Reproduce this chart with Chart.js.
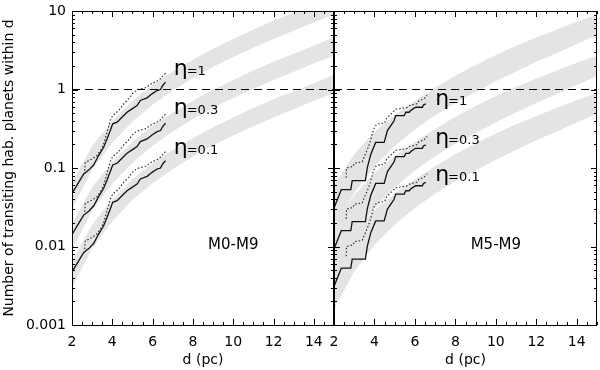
<!DOCTYPE html>
<html>
<head>
<meta charset="utf-8">
<script src="https://cdn.jsdelivr.net/npm/chart.js@4.4.1/dist/chart.umd.min.js"></script>
<style>
  html,body{margin:0;padding:0;background:#fff;}
  #wrap{position:relative;width:600px;height:370px;overflow:hidden;}
  canvas{position:absolute;top:0;}
  #c-all{left:0;}
  #c-late{left:300px;}
</style>
</head>
<body>
<div id="wrap">
  <canvas id="c-all" width="340" height="370"></canvas>
  <canvas id="c-late" width="300" height="370"></canvas>
</div>
<script>
// ---- data ----
const etaValues = [1, 0.3, 0.1];
const etaLabels = ['=1', '=0.3', '=0.1'];
const xTickValues = [2, 4, 6, 8, 10, 12, 14];
const yTickValues = [0.001, 0.01, 0.1, 1, 10];
const yTickLabels = ['0.001', '0.01', '0.1', '1', '10'];
const bandDist = [2, 3, 4, 5, 6, 7, 8, 9, 10, 11, 12, 13, 14, 15];

// M0-M9, eta = 1 (other eta scale with eta)
const allBandLow  = [0.030, 0.095, 0.21, 0.39, 0.64, 0.97, 1.4, 1.95, 2.6, 3.4, 4.4, 5.6, 7.2, 9.0];
const allBandHigh = [0.065, 0.19, 0.40, 0.72, 1.15, 1.7, 2.4, 3.3, 4.4, 5.8, 7.5, 9.5, 12, 15.5];
const allSolidD = [2.00, 2.33, 2.58, 2.83, 3.08, 3.32, 3.57, 3.74, 3.90, 4.02, 4.24, 4.48, 4.73, 4.98, 5.23, 5.39, 5.73, 5.97, 6.22, 6.39, 6.50, 6.64];
const allSolidN = [0.0475, 0.0656, 0.0838, 0.094, 0.110, 0.144, 0.184, 0.235, 0.30, 0.365, 0.383, 0.443, 0.514, 0.567, 0.625, 0.724, 0.783, 0.88, 0.97, 1.0, 1.125, 1.24];
const allDotD = [2.63, 2.66, 2.99, 3.24, 3.46, 3.57, 3.74, 3.90, 4.02, 4.32, 4.57, 4.81, 5.06, 5.31, 5.64, 5.97, 6.22, 6.39, 6.64];
const allDotN = [0.0925, 0.118, 0.130, 0.144, 0.175, 0.202, 0.285, 0.402, 0.466, 0.54, 0.656, 0.76, 0.925, 1.0, 1.05, 1.2, 1.28, 1.37, 1.62];

// M5-M9, eta = 1
const lateBandLow  = [0.016, 0.048, 0.105, 0.19, 0.31, 0.47, 0.68, 0.93, 1.27, 1.7, 2.25, 2.9, 3.8, 4.9];
const lateBandHigh = [0.06, 0.15, 0.29, 0.47, 0.72, 1.05, 1.5, 2.05, 2.75, 3.6, 4.6, 5.8, 7.3, 9.0];
const lateSolidD = [2.00, 2.36, 2.83, 2.90, 3.55, 3.65, 3.82, 4.06, 4.48, 4.64, 4.81, 4.97, 5.05, 5.47, 5.55, 5.71, 5.83, 6.04, 6.37, 6.42, 6.54];
const lateSolidN = [0.031, 0.053, 0.053, 0.069, 0.069, 0.102, 0.15, 0.212, 0.212, 0.30, 0.347, 0.40, 0.466, 0.466, 0.513, 0.513, 0.55, 0.594, 0.594, 0.637, 0.656];
const lateDotD = [2.60, 2.62, 2.95, 3.00, 3.40, 3.50, 3.70, 3.80, 3.95, 4.10, 4.50, 4.60, 4.75, 5.05, 5.60, 5.70, 6.10, 6.20, 6.45, 6.60];
const lateDotN = [0.075, 0.10, 0.105, 0.115, 0.12, 0.14, 0.185, 0.22, 0.31, 0.36, 0.375, 0.43, 0.47, 0.56, 0.59, 0.62, 0.66, 0.72, 0.76, 0.84];

// ---- styling ----
const FONT = "'DejaVu Sans', sans-serif";
const GRAY = '#e4e4e4';

const pts = (xs, ys, k) => xs.map((x, i) => ({x, y: ys[i] * k}));

function buildDatasets(p) {
  const ds = [];
  etaValues.forEach(eta => {
    ds.push({data: pts(bandDist, p.bandLow, eta), borderWidth: 0, pointRadius: 0, fill: false, order: 10});
    ds.push({data: pts(bandDist, p.bandHigh, eta), borderWidth: 0, pointRadius: 0, fill: '-1', backgroundColor: GRAY, order: 10});
  });
  etaValues.forEach(eta => {
    ds.push({data: pts(p.solidD, p.solidN, eta), borderColor: '#111', borderWidth: 1.3, pointRadius: 0, fill: false, order: 1});
    ds.push({data: pts(p.dotD, p.dotN, eta), borderColor: '#222', borderWidth: 1.1, borderDash: [1.5, 2], pointRadius: 0, fill: false, order: 1});
  });
  ds.push({data: [{x: 2, y: 1}, {x: 15, y: 1}], borderColor: '#000', borderWidth: 1.1, borderDash: [8, 5], pointRadius: 0, fill: false, order: 0});
  return ds;
}

// frame, inward ticks and text labels
const framePlugin = {
  id: 'framePlugin',
  afterDraw(chart, args, o) {
    const {ctx, chartArea: a, scales: {x, y}} = chart;
    ctx.save();
    ctx.strokeStyle = '#000';
    ctx.lineWidth = 1;
    ctx.strokeRect(a.left + 0.5, a.top + 0.5, a.right - a.left - 1, a.bottom - a.top);
    ctx.beginPath();
    for (let v = 2; v <= 15; v += 0.5) {
      const px = Math.round(x.getPixelForValue(v)) + 0.5;
      const len = v % 2 === 0 ? 6 : 3;
      ctx.moveTo(px, a.bottom); ctx.lineTo(px, a.bottom - len);
      ctx.moveTo(px, a.top); ctx.lineTo(px, a.top + len);
    }
    for (let e = -3; e <= 1; e++) {
      for (let m = 1; m <= 9; m++) {
        const v = m * Math.pow(10, e);
        if (v > 10.0001) break;
        const py = Math.round(y.getPixelForValue(v)) + 0.5;
        const len = m === 1 ? 6 : 3;
        ctx.moveTo(a.left, py); ctx.lineTo(a.left + len, py);
        ctx.moveTo(a.right, py); ctx.lineTo(a.right - len, py);
      }
    }
    ctx.stroke();

    ctx.fillStyle = '#000';
    ctx.textBaseline = 'alphabetic';
    o.etaPos.forEach((pos, i) => {
      const px = x.getPixelForValue(pos[0]);
      const py = y.getPixelForValue(pos[1]);
      ctx.textAlign = 'left';
      ctx.font = '22px ' + FONT;
      ctx.fillText('η', px, py);
      const w = ctx.measureText('η').width;
      ctx.font = '13px ' + FONT;
      ctx.fillText(etaLabels[i], px + w - 1, py);
    });
    ctx.font = '15px ' + FONT;
    ctx.textAlign = 'center';
    ctx.textBaseline = 'middle';
    ctx.fillText(o.panel, x.getPixelForValue(10), y.getPixelForValue(0.0105));
    ctx.restore();
  }
};

function makeChart(id, p, isLeft) {
  return new Chart(document.getElementById(id), {
    type: 'line',
    data: {datasets: buildDatasets(p)},
    options: {
      responsive: false,
      animation: false,
      events: [],
      layout: {padding: {top: 11, right: isLeft ? 6 : 3, left: 0, bottom: 0}},
      plugins: {
        legend: {display: false},
        tooltip: {enabled: false},
        framePlugin: {etaPos: p.etaPos, panel: p.panel}
      },
      scales: {
        x: {
          type: 'linear', min: 2, max: 15,
          grid: {display: false, drawTicks: false}, border: {display: false},
          afterBuildTicks: s => { s.ticks = xTickValues.map(v => ({value: v})); },
          ticks: {autoSkip: false, maxRotation: 0, padding: 9, color: '#000',
                  font: {family: FONT, size: 14}, callback: v => String(v)},
          title: {display: true, text: 'd (pc)', color: '#000', font: {family: FONT, size: 14}, padding: {top: 0, bottom: 1}},
          afterFit: s => { s.height = 45; s.paddingLeft = 0; s.paddingRight = 0; }
        },
        y: {
          type: 'logarithmic', min: 0.001, max: 10,
          grid: {display: false, drawTicks: false}, border: {display: false},
          afterBuildTicks: s => { s.ticks = yTickValues.map(v => ({value: v})); },
          ticks: {display: isLeft, autoSkip: false, padding: 6, color: '#000',
                  font: {family: FONT, size: 14},
                  callback: v => yTickLabels[yTickValues.indexOf(v)] ?? ''},
          title: {display: isLeft, text: 'Number of transiting hab. planets within d', color: '#000',
                  font: {family: FONT, size: 14}, padding: {top: 1, bottom: 0}},
          afterFit: s => { s.width = isLeft ? 72 : 34; s.paddingTop = 0; s.paddingBottom = 0; }
        }
      }
    },
    plugins: [framePlugin]
  });
}

makeChart('c-all', {
  bandLow: allBandLow, bandHigh: allBandHigh,
  solidD: allSolidD, solidN: allSolidN, dotD: allDotD, dotN: allDotN,
  etaPos: [[7.05, 1.55], [7.05, 0.49], [7.05, 0.152]], panel: 'M0-M9'
}, true);

makeChart('c-late', {
  bandLow: lateBandLow, bandHigh: lateBandHigh,
  solidD: lateSolidD, solidN: lateSolidN, dotD: lateDotD, dotN: lateDotN,
  etaPos: [[7.0, 0.643], [7.0, 0.204], [7.0, 0.069]], panel: 'M5-M9'
}, false);
</script>
</body>
</html>
